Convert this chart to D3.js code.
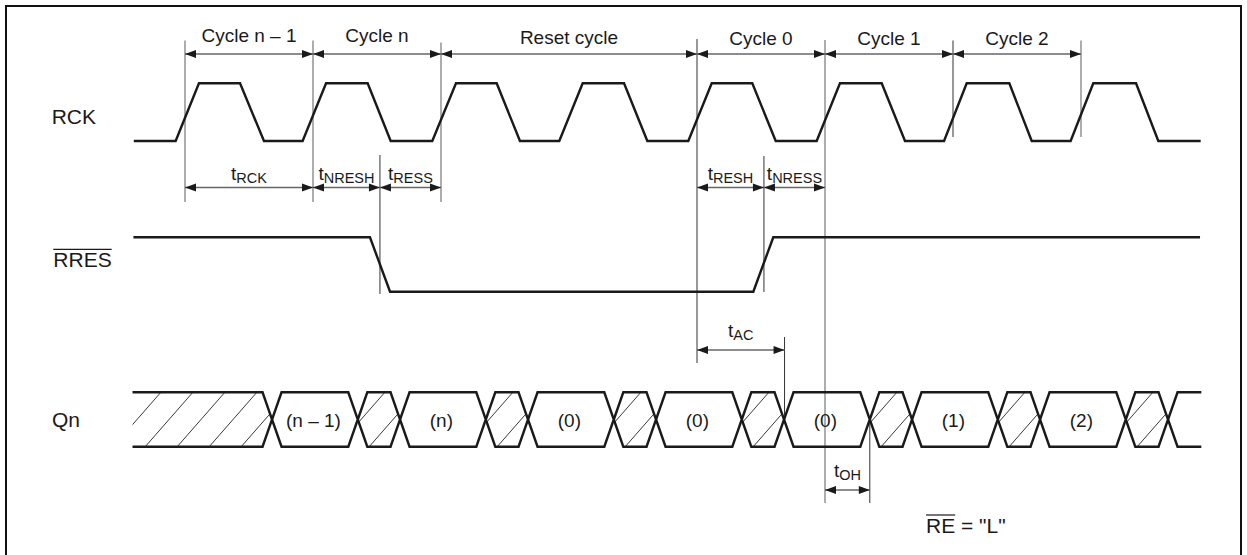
<!DOCTYPE html>
<html><head><meta charset="utf-8">
<script src="https://cdn.jsdelivr.net/npm/d3@7"></script>
<style>
body{margin:0;background:#fff}
svg{display:block}
text{font-family:"Liberation Sans",Arial,Helvetica,sans-serif;fill:#1a1a1a}
</style>
</head><body>
<svg id="chart" width="1247" height="555"></svg>
<script>
// ================= DATA (time in clock cycles, 0 = edge starting "Cycle n – 1") =================
const signalNames = ["RCK", "RRES", "Qn"];

const cycleLabels = ["Cycle n – 1", "Cycle n", "Reset cycle", "Cycle 0", "Cycle 1", "Cycle 2"];
const cycleStarts = [0, 1, 2, 4, 5, 6];
const cycleEnds   = [1, 2, 4, 5, 6, 7];

// RCK waveform corner points (time, level 0/1)
const rckTimes = [-0.40, -0.073, 0.109, 0.430, 0.617,
                   0.919, 1.102, 1.427, 1.607,
                   1.932, 2.117, 2.435, 2.617,
                   2.924, 3.107, 3.430, 3.612,
                   3.932, 4.115, 4.432, 4.615,
                   4.935, 5.117, 5.443, 5.625,
                   5.930, 6.107, 6.440, 6.615,
                   6.919, 7.096, 7.430, 7.604, 7.935];
const rckLevels = [0, 0, 1, 1, 0,
                   0, 1, 1, 0,
                   0, 1, 1, 0,
                   0, 1, 1, 0,
                   0, 1, 1, 0,
                   0, 1, 1, 0,
                   0, 1, 1, 0,
                   0, 1, 1, 0, 0];

// RRES (active low) waveform
const rresTimes  = [-0.403, 1.445, 1.602, 4.440, 4.596, 7.930];
const rresLevels = [1, 1, 0, 0, 1, 1];

// Qn bus: segment boundaries, labels and whether the segment is "don't care" (hatched)
const qnBounds  = [-0.41, 0.68, 1.35, 1.68, 2.35, 2.68, 3.35, 3.68, 4.35, 4.68, 5.35, 5.68, 6.35, 6.68, 7.35, 7.68, 7.94];
const qnLabels  = ["", "(n – 1)", "", "(n)", "", "(0)", "", "(0)", "", "(0)", "", "(1)", "", "(2)", "", ""];
const qnHatched = [1, 0, 1, 0, 1, 0, 1, 0, 1, 0, 1, 0, 1, 0, 1, 0];

// timing parameters
const timingSubs   = ["RCK", "NRESH", "RESS", "RESH", "NRESS", "AC", "OH"];
const timingStarts = [0, 1, 1.523, 4, 4.523, 4, 5];
const timingEnds   = [1, 1.523, 2, 4.523, 5, 4.684, 5.35];
const timingRows   = ["clk", "clk", "clk", "clk", "clk", "ac", "oh"];

// vertical reference lines
const guideTimes = [0, 1, 2, 4, 5, 6, 7, 1.523, 4.523, 4.684, 5.35];

const noteBar = "RE";
const noteRest = " = \"L\"";

// ================= LAYOUT / STYLE =================
const svg = d3.select("#chart");
const x = d3.scaleLinear().domain([0, 7]).range([185, 1081]);
const yRck  = d3.scaleLinear().domain([0, 1]).range([141, 83.3]);
const yRres = d3.scaleLinear().domain([0, 1]).range([291.7, 237.3]);
const busTop = 392.3, busBot = 446.7, busMid = (busTop + busBot) / 2;
const busHalf = 9.5;
const rowY = {cycle: 54, clk: 187.5, ac: 350, oh: 490};
const subBase = {clk: 180, ac: 336.5, oh: 476.5};
const cycleLabelY = [41.5, 41.5, 44, 44.5, 44.5, 44.5];
const guideSpan = [[40.5,202],[40.5,202],[42.5,202],[39,363],[40,503],[40.5,137],[40.5,137],[155,294],[156,292],[337,415],[418,503]];
const guideDark = [0,0,0,1,0,1,0,1,1,1,1];
const waveColor = "#1a1a1a", waveW = 2.4;
const dimColor = "#666";

// frame
svg.append("rect").attr("x", 6).attr("y", 6).attr("width", 1235).attr("height", 560)
  .attr("fill", "none").attr("stroke", "#111").attr("stroke-width", 2);

// guides
svg.append("g").selectAll("line").data(guideTimes).join("line")
  .attr("x1", d => x(d)).attr("x2", d => x(d))
  .attr("y1", (d, i) => guideSpan[i][0]).attr("y2", (d, i) => guideSpan[i][1])
  .attr("stroke", (d, i) => guideDark[i] ? "#333" : "#8a8a8a")
  .attr("stroke-width", (d, i) => guideDark[i] ? 1 : 1.4);

// dimension arrows
function dimArrow(g, t0, t1, y) {
  const xa = x(t0), xb = x(t1);
  g.append("line").attr("x1", xa).attr("x2", xb).attr("y1", y).attr("y2", y)
    .attr("stroke", dimColor).attr("stroke-width", 1.3);
  const L = 11, hw = 4;
  g.append("path").attr("d", `M${xa},${y}L${xa + L},${y - hw}L${xa + L},${y + hw}Z`).attr("fill", "#1a1a1a");
  g.append("path").attr("d", `M${xb},${y}L${xb - L},${y - hw}L${xb - L},${y + hw}Z`).attr("fill", "#1a1a1a");
}
const gDim = svg.append("g");
cycleLabels.forEach((lab, i) => {
  dimArrow(gDim, cycleStarts[i], cycleEnds[i], rowY.cycle);
  gDim.append("text").attr("x", (x(cycleStarts[i]) + x(cycleEnds[i])) / 2).attr("y", cycleLabelY[i])
    .attr("text-anchor", "middle").attr("font-size", 19).text(lab);
});
timingSubs.forEach((s, i) => {
  const r = timingRows[i];
  dimArrow(gDim, timingStarts[i], timingEnds[i], rowY[r]);
  const t = gDim.append("text").attr("x", (x(timingStarts[i]) + x(timingEnds[i])) / 2)
    .attr("y", subBase[r]).attr("text-anchor", "middle");
  t.append("tspan").attr("font-size", 19).text("t");
  t.append("tspan").attr("font-size", 14.5).attr("dy", 3).text(s);
});

// RCK
const line = (ys) => d3.line().x(d => x(d[0])).y(d => ys(d[1]));
svg.append("path").attr("d", line(yRck)(rckTimes.map((t, i) => [t, rckLevels[i]])))
  .attr("fill", "none").attr("stroke", waveColor).attr("stroke-width", waveW).attr("stroke-linejoin", "miter");
// RRES
svg.append("path").attr("d", line(yRres)(rresTimes.map((t, i) => [t, rresLevels[i]])))
  .attr("fill", "none").attr("stroke", waveColor).attr("stroke-width", waveW);

// Qn bus
const gBus = svg.append("g");
const defs = svg.append("defs");
const nSeg = qnBounds.length - 1;
for (let i = 0; i < nSeg; i++) {
  const x0 = x(qnBounds[i]), x1 = x(qnBounds[i + 1]);
  const lc = i > 0, rc = i < nSeg - 1;
  const xl = lc ? x0 + busHalf : x0, xr = rc ? x1 - busHalf : x1;
  const poly = [];
  if (lc) poly.push([x0, busMid]);
  poly.push([xl, busTop], [xr, busTop]);
  if (rc) poly.push([x1, busMid]);
  poly.push([xr, busBot], [xl, busBot]);
  if (qnHatched[i]) {
    const id = "clip" + i;
    defs.append("clipPath").attr("id", id).append("polygon").attr("points", poly.map(p => p.join(",")).join(" "));
    const gh = gBus.append("g").attr("clip-path", `url(#${id})`);
    const k = 0.94;
    for (let cx = x1 - 7; cx > x0 - 40; cx -= 32) {
      gh.append("line")
        .attr("x1", cx - k * (busBot - busMid)).attr("y1", busBot + 2)
        .attr("x2", cx + k * (busMid - busTop)).attr("y2", busTop - 2)
        .attr("stroke", "#222").attr("stroke-width", 0.9);
    }
  }
  let d = lc ? `M${x0},${busMid}L${xl},${busTop}` : `M${x0},${busTop}`;
  d += `L${xr},${busTop}`;
  d += rc ? `L${x1},${busMid}L${xr},${busBot}` : `M${x1},${busBot}`;
  d += `L${xl},${busBot}`;
  if (lc) d += `L${x0},${busMid}`;
  gBus.append("path").attr("d", d).attr("fill", "none").attr("stroke", waveColor)
    .attr("stroke-width", waveW).attr("stroke-linejoin", "miter");
  if (qnLabels[i]) {
    gBus.append("text").attr("x", (x0 + x1) / 2 - 1.5).attr("y", busMid + 7)
      .attr("text-anchor", "middle").attr("font-size", 19).text(qnLabels[i]);
  }
}

// signal names
const nameY = [124, 266.7, 426.5];
const nameX = [51.7, 53.3, 52];
signalNames.forEach((n, i) => {
  const t = svg.append("text").attr("x", nameX[i]).attr("y", nameY[i]).attr("font-size", 21).text(n);
  if (n === "RRES") {
    const bb = t.node().getBBox();
    svg.append("line").attr("x1", bb.x).attr("x2", bb.x + bb.width).attr("y1", 249.3).attr("y2", 249.3)
      .attr("stroke", "#1a1a1a").attr("stroke-width", 1.2);
  }
});

// note
const note = svg.append("text").attr("x", 926).attr("y", 532.7).attr("font-size", 21);
const barSpan = note.append("tspan").text(noteBar);
note.append("tspan").text(noteRest);
{
  const w = barSpan.node().getComputedTextLength();
  svg.append("line").attr("x1", 926).attr("x2", 926 + w).attr("y1", 515).attr("y2", 515)
    .attr("stroke", "#1a1a1a").attr("stroke-width", 1.2);
}
</script>
</body></html>
